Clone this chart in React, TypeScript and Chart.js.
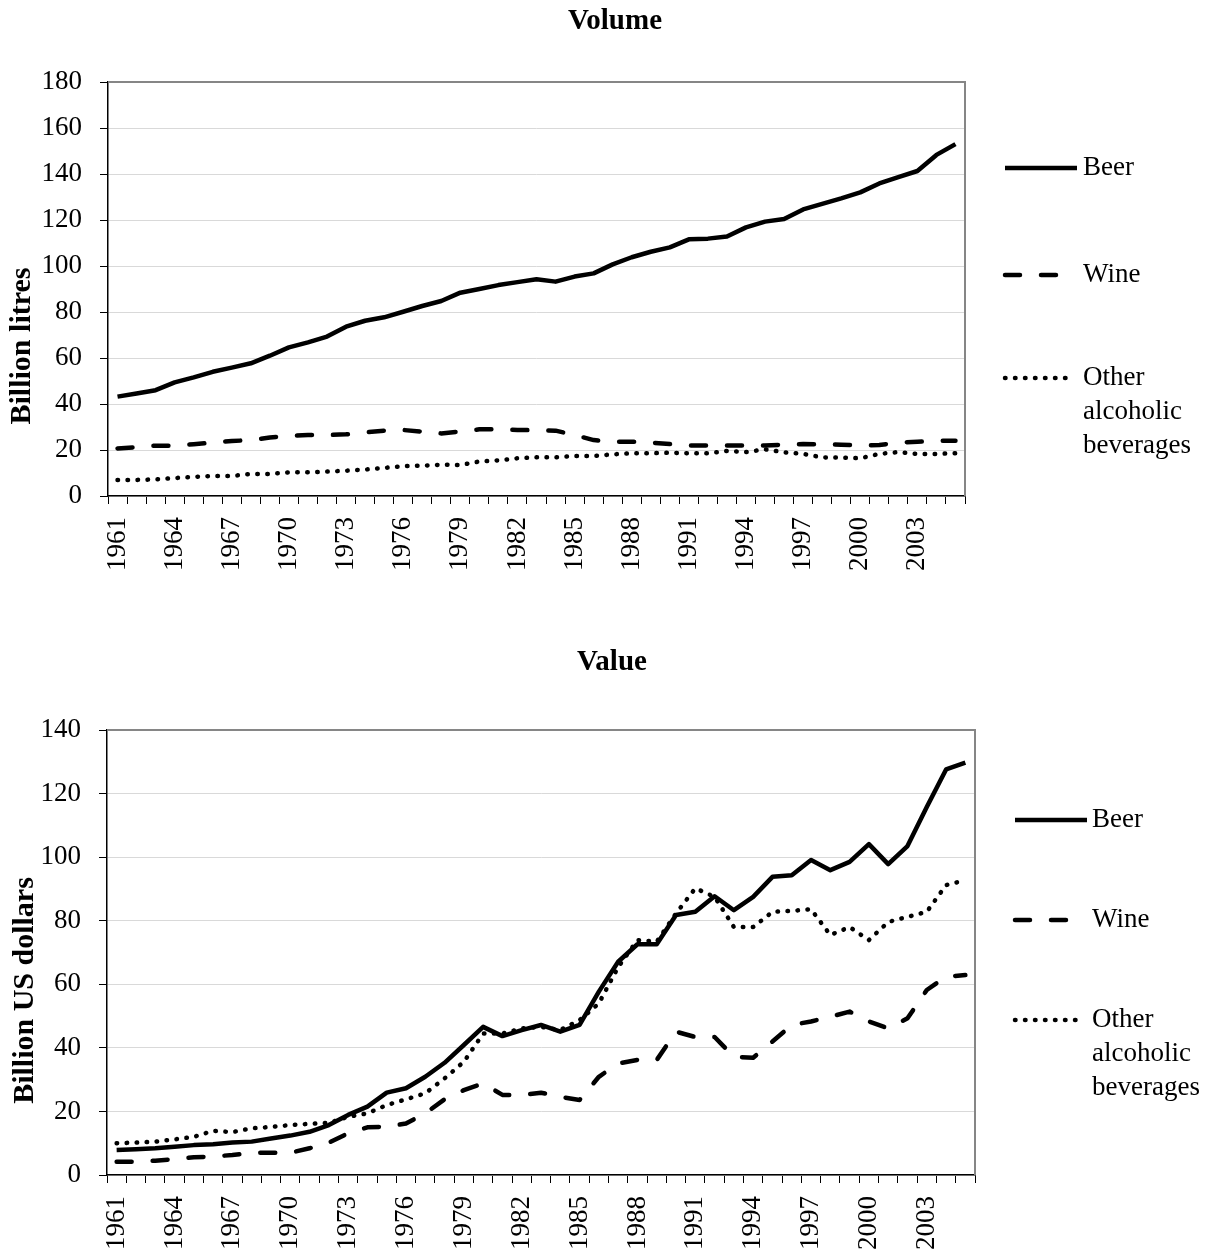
import React, { useEffect, useRef } from "react";
import { Chart, registerables } from "chart.js";

Chart.register(...registerables);

const years = [
  "1961", "1962", "1963", "1964", "1965", "1966", "1967", "1968", "1969", "1970",
  "1971", "1972", "1973", "1974", "1975", "1976", "1977", "1978", "1979", "1980",
  "1981", "1982", "1983", "1984", "1985", "1986", "1987", "1988", "1989", "1990",
  "1991", "1992", "1993", "1994", "1995", "1996", "1997", "1998", "1999", "2000",
  "2001", "2002", "2003", "2004", "2005",
];

// Volume, billion litres
const volumeBeer = [
  43.2, 44.6, 46, 49.4, 51.6, 54, 55.8, 57.7, 61, 64.6,
  66.8, 69.3, 73.6, 76.2, 77.7, 80.1, 82.6, 84.8, 88.4, 90,
  91.7, 93, 94.2, 93.2, 95.4, 96.8, 100.7, 103.8, 106.2, 108.1,
  111.6, 111.9, 112.8, 116.8, 119.3, 120.4, 124.6, 127, 129.4, 132,
  135.9, 138.6, 141.3, 148.3, 153,
];
const volumeWine = [
  20.7, 21.2, 21.9, 21.9, 22.5, 23.2, 23.9, 24.3, 25.4, 26.1,
  26.5, 26.5, 26.8, 27.7, 28.4, 28.7, 28, 27.2, 28, 29,
  29, 28.7, 28.6, 28.4, 26.5, 24.3, 23.6, 23.6, 23.2, 22.6,
  22, 22, 22, 22, 22, 22.3, 22.6, 22.5, 22.3, 22,
  22.2, 23.2, 23.6, 24, 24,
];
const volumeOther = [
  7, 7, 7.2, 7.8, 8.3, 8.7, 8.7, 9.6, 9.6, 10.3,
  10.3, 10.6, 11, 11.5, 12.2, 13, 13.2, 13.6, 13.5, 15,
  15.5, 16.4, 16.8, 16.8, 17.4, 17.4, 18.1, 18.6, 18.6, 18.8,
  18.6, 18.6, 19.6, 19.1, 20.3, 19, 18.3, 16.8, 16.7, 16.4,
  18.3, 19.1, 18.3, 18.3, 18.6,
];

// Value, billion US dollars
const valueBeer = [
  7.9, 8.1, 8.4, 8.9, 9.4, 9.7, 10.2, 10.5, 11.5, 12.4,
  13.6, 15.7, 18.9, 21.5, 25.9, 27.3, 30.9, 35.3, 40.9, 46.6,
  43.7, 45.6, 47.2, 45.1, 47.2, 57.7, 67.1, 72.6, 72.6, 81.8,
  82.8, 87.7, 83.3, 87.5, 93.8, 94.3, 99.1, 95.9, 98.5, 104.1,
  97.8, 103.5, 115.8, 127.6, 129.7,
];
const valueWine = [
  4.2, 4.2, 4.5, 5, 5.6, 5.8, 6.3, 7, 7, 7,
  8.4, 10.2, 13.1, 15, 15.2, 16.2, 19.4, 23.8, 26.7, 28.8,
  25.2, 25.2, 25.9, 24.6, 23.6, 30.9, 35.1, 36.2, 36.2, 45.1,
  43.4, 43.4, 37.2, 36.9, 42, 47.2, 48.3, 49.8, 51.4, 48.3,
  46.1, 49.3, 58.2, 62.4, 62.9,
];
const valueOther = [
  10, 10.2, 10.5, 11.2, 12, 13.9, 13.5, 14.7, 15.1, 15.7,
  16.1, 16.4, 18.3, 19.4, 22, 23.8, 25.7, 30.4, 35.6, 44.5,
  44.5, 46.1, 46.6, 45.6, 48.7, 54, 65.4, 73.9, 73.4, 82.3,
  90.2, 87.5, 78, 78, 82.8, 83.1, 83.6, 75.5, 78, 73.9,
  79.6, 81.2, 82.8, 91.2, 92.7,
];

const seriesNames = ["Beer", "Wine", "Other alcoholic beverages"];
const legendLines = [["Beer"], ["Wine"], ["Other", "alcoholic", "beverages"]];

const FONT = '"Liberation Serif", "Times New Roman", serif';
const LW = 4.5;
const styles = [
  { dash: [] as number[], cap: "butt" },
  { dash: [15, 21], cap: "round" },
  { dash: [0.5, 9.5], cap: "round" },
];

const decorPlugin = {
  id: "decor",
  afterDraw(chart: any, _args: any, opts: any) {
    const { ctx, chartArea: a } = chart;
    ctx.save();
    // top and right frame
    ctx.strokeStyle = "#868686";
    ctx.lineWidth = 2;
    ctx.beginPath();
    ctx.moveTo(a.left, a.top);
    ctx.lineTo(a.right, a.top);
    ctx.lineTo(a.right, a.bottom);
    ctx.stroke();
    ctx.restore();

    // chart title
    ctx.save();
    ctx.font = `bold 29px ${FONT}`;
    ctx.fillStyle = "#000";
    ctx.textAlign = "center";
    ctx.textBaseline = "middle";
    ctx.fillText(opts.title, opts.titleCX, opts.titleCY);
    ctx.restore();

    // y axis title
    ctx.save();
    ctx.translate(opts.titleX, (a.top + a.bottom) / 2 + opts.titleShift);
    ctx.rotate(-Math.PI / 2);
    ctx.font = `bold 30px ${FONT}`;
    ctx.fillStyle = "#000";
    ctx.textAlign = "center";
    ctx.textBaseline = "middle";
    ctx.fillText(opts.yTitle, 0, 0);
    ctx.restore();

    // legend
    ctx.save();
    ctx.font = `27px ${FONT}`;
    ctx.fillStyle = "#000";
    ctx.textAlign = "left";
    ctx.textBaseline = "middle";
    chart.data.datasets.forEach((ds: any, i: number) => {
      const y = a.top + opts.legendY[i];
      const x0 = a.right + opts.sampleX;
      ctx.save();
      ctx.strokeStyle = "#000";
      ctx.lineWidth = LW;
      ctx.setLineDash(ds.borderDash || []);
      ctx.lineCap = ds.borderCapStyle || "butt";
      ctx.beginPath();
      ctx.moveTo(x0, y);
      ctx.lineTo(x0 + opts.sampleW[i], y);
      ctx.stroke();
      ctx.restore();
      legendLines[i].forEach((t, k) => {
        ctx.fillText(t, a.right + opts.textX, y + k * 34);
      });
    });
    ctx.restore();
  },
};

type PanelProps = {
  title: string;
  yTitle: string;
  data: number[][];
  yMax: number;
  width: number;
  height: number;
  topPad: number;
  titleCX: number;
  titleCY: number;
  yWidth: number;
  xHeight: number;
  rightPad: number;
  titleX: number;
  titleShift: number;
  legendY: number[];
  sampleX: number;
  textX: number;
};

function Panel(p: PanelProps) {
  const ref = useRef<HTMLCanvasElement | null>(null);
  useEffect(() => {
    if (!ref.current) return;
    const chart = new Chart(ref.current, {
      type: "line",
      data: {
        labels: years,
        datasets: p.data.map((d, i) => ({
          label: seriesNames[i],
          data: d,
          borderColor: "#000",
          backgroundColor: "#000",
          borderWidth: LW,
          borderDash: styles[i].dash,
          borderCapStyle: styles[i].cap as any,
          borderJoinStyle: "round" as any,
          pointRadius: 0,
          tension: 0,
          fill: false,
        })),
      },
      options: {
        animation: false,
        responsive: false,
        devicePixelRatio: 1,
        layout: { padding: { left: 0, right: p.rightPad, top: p.topPad, bottom: 0 } },
        plugins: {
          legend: { display: false },
          tooltip: { enabled: false },
          title: { display: false },
          decor: {
            title: p.title,
            titleCX: p.titleCX,
            titleCY: p.titleCY,
            yTitle: p.yTitle,
            titleX: p.titleX,
            titleShift: p.titleShift,
            legendY: p.legendY,
            sampleX: p.sampleX,
            sampleW: [72, 58, 62],
            textX: p.textX,
          },
        } as any,
        scales: {
          x: {
            type: "category",
            offset: true,
            afterFit: (s: any) => {
              s.height = p.xHeight;
            },
            grid: {
              display: true,
              drawOnChartArea: false,
              drawTicks: true,
              tickLength: 8,
              offset: true,
              color: "#000",
              lineWidth: 1,
            },
            border: { display: true, color: "#000", width: 1.5 },
            ticks: {
              autoSkip: false,
              minRotation: 90,
              maxRotation: 90,
              padding: 13,
              color: "#000",
              font: { family: FONT, size: 27 },
              callback: (_v: any, i: number) => (i % 3 === 0 ? years[i] : ""),
            },
          },
          y: {
            min: 0,
            max: p.yMax,
            afterFit: (s: any) => {
              s.width = p.yWidth;
            },
            ticks: {
              stepSize: 20,
              padding: 18,
              color: "#000",
              font: { family: FONT, size: 27 },
            },
            grid: {
              color: "#d9d9d9",
              tickColor: "#000",
              tickLength: 8,
              lineWidth: 1,
            },
            border: { display: true, color: "#000", width: 1.5 },
          },
        },
      },
      plugins: [decorPlugin],
    });
    return () => chart.destroy();
  }, []);
  return (
    <canvas
      ref={ref}
      width={p.width}
      height={p.height}
      style={{ display: "block", width: p.width, height: p.height }}
    />
  );
}

export default function App() {
  useEffect(() => {
    document.body.style.margin = "0";
    document.body.style.background = "#fff";
  }, []);
  return (
    <div style={{ width: 1220, height: 1253, background: "#fff" }}>
      <Panel
        title="Volume"
        yTitle="Billion litres"
        data={[volumeBeer, volumeWine, volumeOther]}
        yMax={180}
        width={1220}
        height={620}
        topPad={82}
        titleCX={615}
        titleCY={22}
        yWidth={108}
        xHeight={124}
        rightPad={255}
        titleX={22}
        titleShift={57}
        legendY={[86, 193, 296]}
        sampleX={40}
        textX={118}
      />
      <Panel
        title="Value"
        yTitle="Billion US dollars"
        data={[valueBeer, valueWine, valueOther]}
        yMax={140}
        width={1220}
        height={633}
        topPad={110}
        titleCX={612}
        titleCY={43}
        yWidth={107}
        xHeight={78}
        rightPad={245}
        titleX={25}
        titleShift={38}
        legendY={[90, 190, 290]}
        sampleX={40}
        textX={117}
      />
    </div>
  );
}
